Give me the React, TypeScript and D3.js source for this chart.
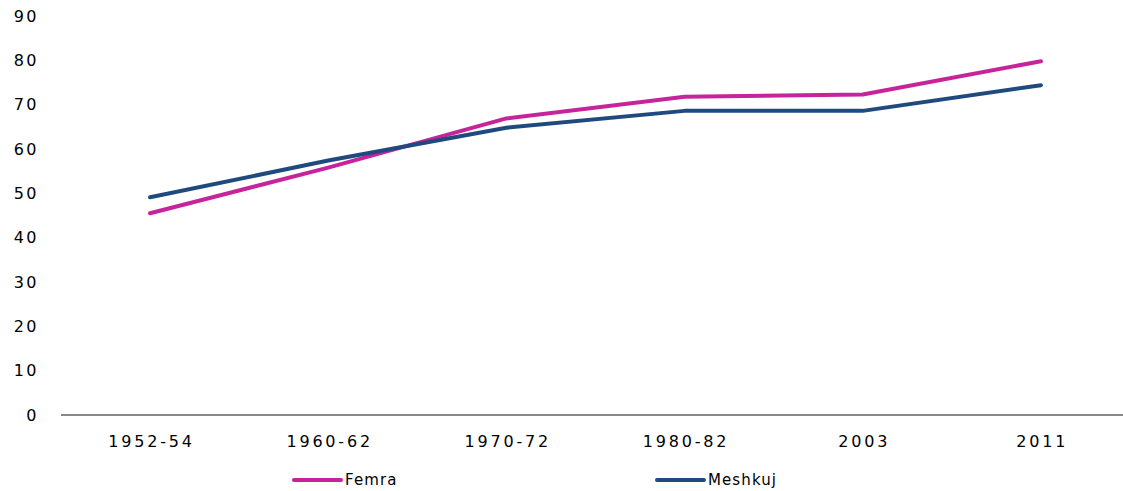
import React from "react";
import * as d3 from "d3";

const categories = ["1952-54", "1960-62", "1970-72", "1980-82", "2003", "2011"];
const femra = [45.5, 55.8, 66.9, 71.8, 72.3, 79.8];
const meshkuj = [49.1, 57.4, 64.8, 68.6, 68.6, 74.4];
const yTicks = [0, 10, 20, 30, 40, 50, 60, 70, 80, 90];
const seriesNames = ["Femra", "Meshkuj"];
const seriesColors = ["#C7239A", "#1F4A7E"];

const W = 1123;
const H = 491;

export default function App() {
  const x = d3.scaleBand<string>().domain(categories).range([61, 1130]);
  const y = d3.scaleLinear().domain([0, 90]).range([415, 16]);
  const cx = (c: string) => (x(c) as number) + x.bandwidth() / 2;
  const line = d3
    .line<number>()
    .x((_, i) => cx(categories[i]))
    .y((d) => y(d));
  const series = [femra, meshkuj];
  const font = "'DejaVu Sans', Verdana, sans-serif";
  const legendX = [294, 657];

  return (
    <svg
      width={W}
      height={H}
      style={{ position: "absolute", left: 0, top: 0, background: "#fff" }}
      fontFamily={font}
    >
      {yTicks.map((t) => (
        <text
          key={t}
          x={39}
          y={y(t)}
          dy="0.36em"
          textAnchor="end"
          fontSize={16}
          letterSpacing={2.5}
          fill="#000"
        >
          {t}
        </text>
      ))}
      <line x1={61} x2={W} y1={y(0)} y2={y(0)} stroke="#888" strokeWidth={2} />
      {categories.map((c) => (
        <text
          key={c}
          x={cx(c) + 1.4}
          y={447}
          textAnchor="middle"
          fontSize={16}
          letterSpacing={2.8}
          fill="#000"
        >
          {c}
        </text>
      ))}
      {series.map((s, i) => (
        <path
          key={i}
          d={line(s) as string}
          fill="none"
          stroke={seriesColors[i]}
          strokeWidth={4}
          strokeLinecap="round"
          strokeLinejoin="round"
        />
      ))}
      {seriesNames.map((n, i) => (
        <g key={n}>
          <line
            x1={legendX[i]}
            x2={legendX[i] + 47}
            y1={480}
            y2={480}
            stroke={seriesColors[i]}
            strokeWidth={4}
            strokeLinecap="round"
          />
          <text x={legendX[i] + 51} y={485} fontSize={15} letterSpacing={1.1} fill="#000">
            {n}
          </text>
        </g>
      ))}
    </svg>
  );
}
